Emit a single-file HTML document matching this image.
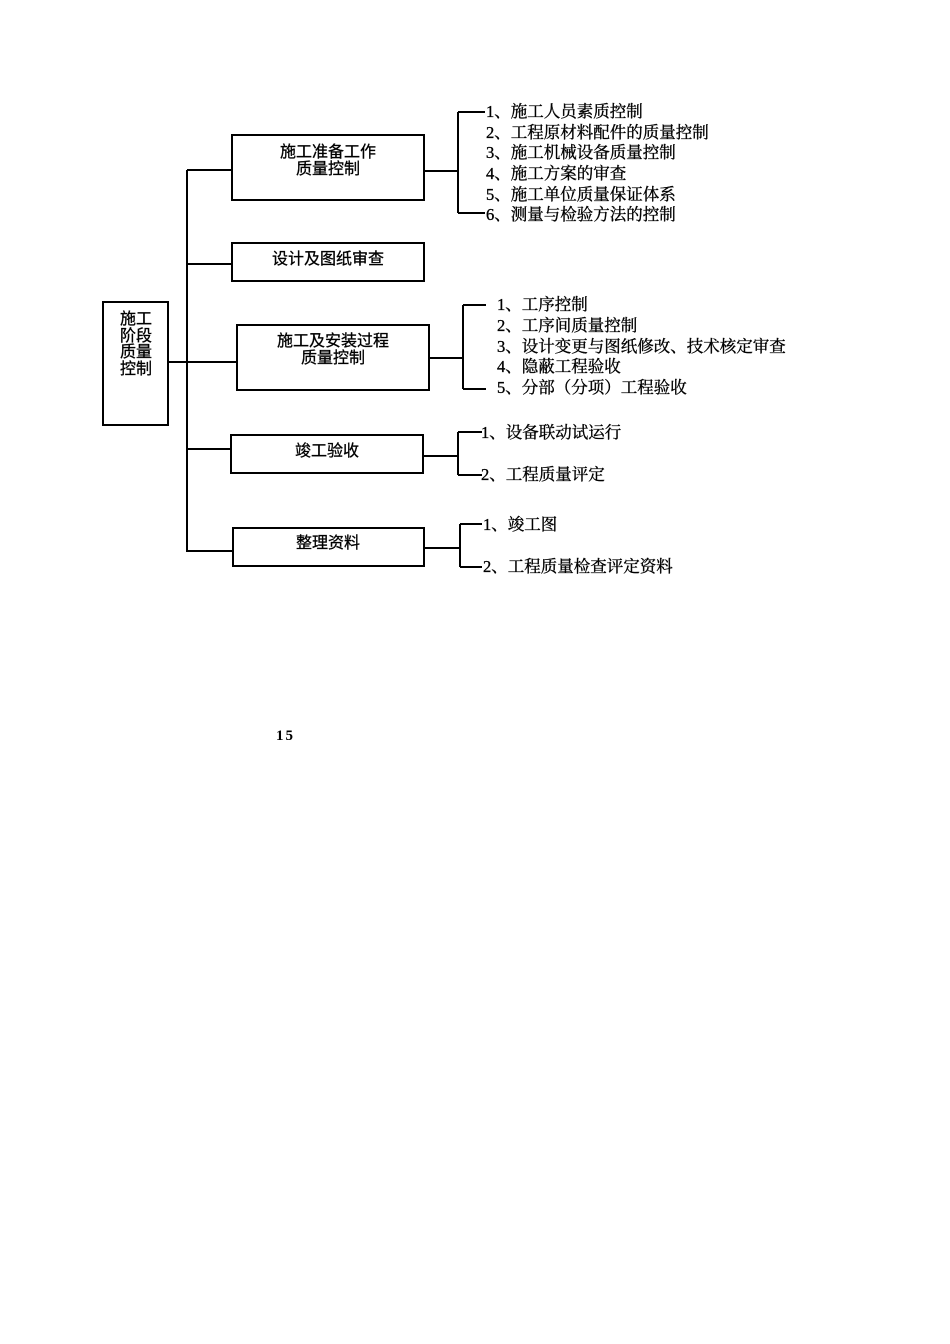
<!DOCTYPE html>
<html><head><meta charset="utf-8"><style>
html,body{margin:0;padding:0;background:#fff;width:950px;height:1344px;overflow:hidden}
svg{display:block}
.b{font-family:"Liberation Sans","Noto Sans CJK SC",sans-serif;font-size:16px;fill:#000;stroke:#000;stroke-width:0.3}
.s{font-family:"Liberation Serif","Noto Serif CJK SC",serif;font-size:16.5px;fill:#000;stroke:#000;stroke-width:0.35}
</style></head><body>
<svg width="950" height="1344" viewBox="0 0 950 1344" xmlns="http://www.w3.org/2000/svg">
<g stroke="#000" stroke-width="2" fill="none">
<rect x="103" y="302" width="65" height="123"/>
<rect x="232" y="135" width="192" height="65"/>
<rect x="232" y="243" width="192" height="38"/>
<rect x="237" y="325" width="192" height="65"/>
<rect x="231" y="435" width="192" height="38"/>
<rect x="233" y="528" width="191" height="38"/>
<path d="M187 170V552M187 170H232M187 264H232M168 362H237M187 449H231M187 551H233"/>
<path d="M424 171H458M458 112V213M458 112H485M458 213H485"/>
<path d="M429 358H463M463 305V389M463 305H486M463 389H486"/>
<path d="M423 456H458M458 432V475M458 432H482M458 475H482"/>
<path d="M424 548H460M460 524V567M460 524H482M460 567H482"/>
</g>
<g class="b" text-anchor="middle">
<text x="136" y="324">施工</text>
<text x="136" y="341">阶段</text>
<text x="136" y="357">质量</text>
<text x="136" y="374">控制</text>
<text x="328" y="157">施工准备工作</text>
<text x="328" y="174">质量控制</text>
<text x="328" y="264">设计及图纸审查</text>
<text x="333" y="346">施工及安装过程</text>
<text x="333" y="363">质量控制</text>
<text x="327" y="456">竣工验收</text>
<text x="328" y="548">整理资料</text>
</g>
<g class="s">
<text x="486" y="117">1、施工人员素质控制</text>
<text x="486" y="138">2、工程原材料配件的质量控制</text>
<text x="486" y="158">3、施工机械设备质量控制</text>
<text x="486" y="179">4、施工方案的审查</text>
<text x="486" y="200">5、施工单位质量保证体系</text>
<text x="486" y="220">6、测量与检验方法的控制</text>
<text x="497" y="310">1、工序控制</text>
<text x="497" y="331">2、工序间质量控制</text>
<text x="497" y="352">3、设计变更与图纸修改、技术核定审查</text>
<text x="497" y="372">4、隐蔽工程验收</text>
<text x="497" y="393">5、分部（分项）工程验收</text>
<text x="481" y="438">1、设备联动试运行</text>
<text x="481" y="480">2、工程质量评定</text>
<text x="483" y="530">1、竣工图</text>
<text x="483" y="572">2、工程质量检查评定资料</text>
</g>
<text x="276" y="740" font-family="Liberation Serif,serif" font-weight="bold" font-size="15" letter-spacing="2">15</text>
</svg>
</body></html>
